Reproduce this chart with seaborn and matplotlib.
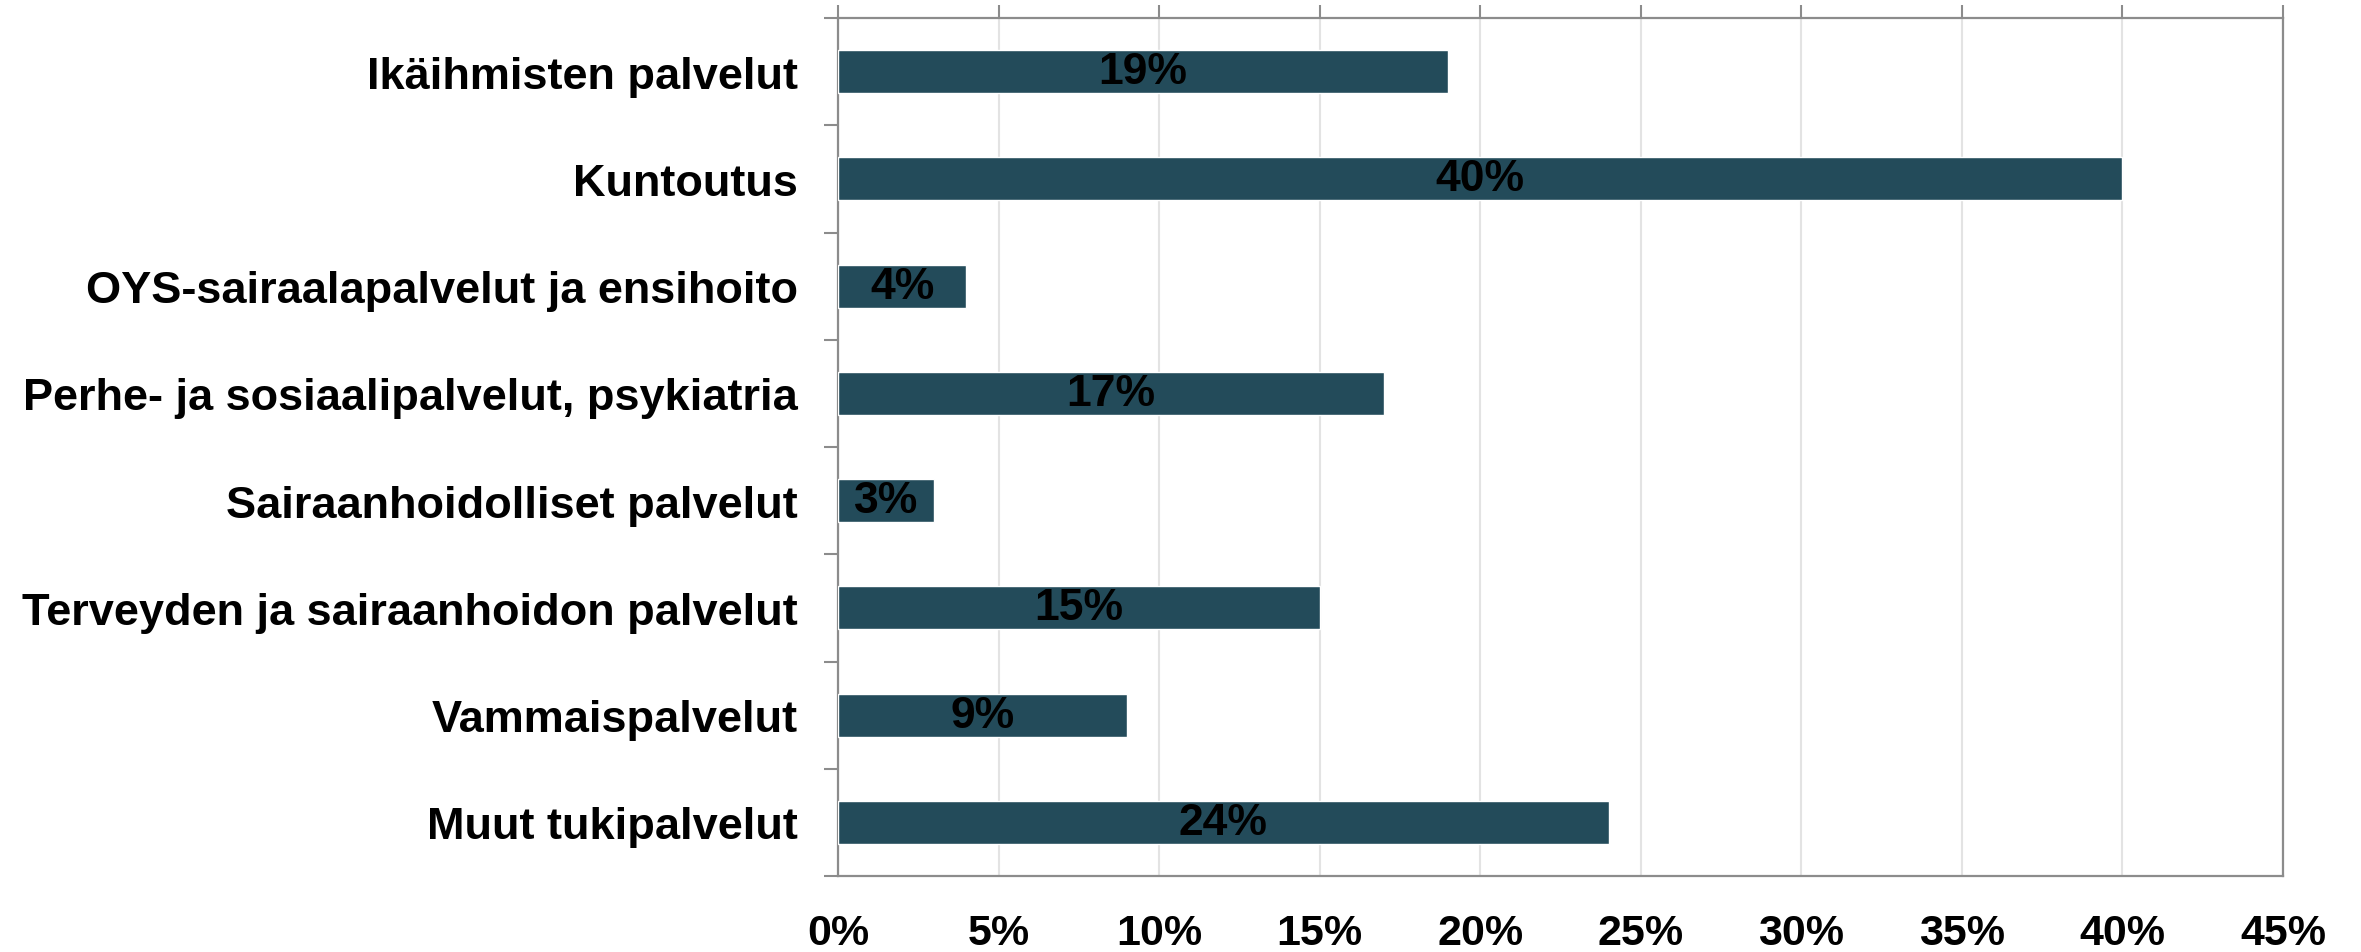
import numpy as np
import pandas as pd
import seaborn as sns
import matplotlib
matplotlib.use("Agg")
import matplotlib.pyplot as plt
from matplotlib.ticker import FixedLocator, PercentFormatter

categories = [
    "Ikäihmisten palvelut",
    "Kuntoutus",
    "OYS-sairaalapalvelut ja ensihoito",
    "Perhe- ja sosiaalipalvelut, psykiatria",
    "Sairaanhoidolliset palvelut",
    "Terveyden ja sairaanhoidon palvelut",
    "Vammaispalvelut",
    "Muut tukipalvelut",
]
shares = [19, 40, 4, 17, 3, 15, 9, 24]
x_ticks = [0, 5, 10, 15, 20, 25, 30, 35, 40, 45]

BAR = "#234b5a"
AXIS = "#8c8c8c"
GRID = "#e3e3e3"

sns.set_theme(style="white")
plt.rcParams["font.family"] = ["Liberation Sans", "DejaVu Sans"]
plt.rcParams["font.weight"] = "bold"

df = pd.DataFrame({"category": categories, "share": shares})

W, H = 2361, 953
fig = plt.figure(figsize=(W / 100, H / 100), dpi=100)
ax = fig.add_axes([838 / W, 1 - 877 / H, (2283 - 838) / W, (877 - 19) / H])

sns.barplot(data=df, x="share", y="category", orient="h", color=BAR,
            width=0.4, saturation=1, ax=ax, zorder=3)

ax.set_xlim(0, 45)
ax.set_ylim(len(categories) - 0.5, -0.5)
ax.set_xlabel("")
ax.set_ylabel("")

# grid behind bars
ax.xaxis.set_major_locator(FixedLocator(x_ticks))
ax.xaxis.set_major_formatter(PercentFormatter(decimals=0))
ax.grid(axis="x", color=GRID, linewidth=1.5, zorder=0)
ax.set_axisbelow(True)

# x: tick marks on top, labels at bottom
ax.tick_params(axis="x", top=True, bottom=False, labeltop=False, labelbottom=True,
               direction="out", length=9.5, width=1.5, color=AXIS,
               labelsize=31, pad=17)
for lab in ax.get_xticklabels():
    lab.set_fontweight("bold")
    lab.set_color("black")

# y: boundary ticks, labels in the middle
n = len(categories)
ax.yaxis.set_major_locator(FixedLocator(np.arange(-0.5, n, 1.0)))
ax.yaxis.set_minor_locator(FixedLocator(np.arange(n)))
ax.yaxis.set_major_formatter(plt.NullFormatter())
ax.yaxis.set_minor_formatter(plt.FixedFormatter(categories))
ax.tick_params(axis="y", which="major", direction="out", length=10, width=1.5,
               color=AXIS, left=True)
ax.tick_params(axis="y", which="minor", length=0, pad=29, labelsize=32.5,
               labelcolor="black", left=True)
for lab in ax.get_yticklabels(minor=True):
    lab.set_fontweight("bold")

for side in ["left", "right", "top", "bottom"]:
    ax.spines[side].set_visible(True)
    ax.spines[side].set_color(AXIS)
    ax.spines[side].set_linewidth(1.6)

for cont in ax.containers:
    ax.bar_label(cont, labels=[f"{v}%" for v in shares], label_type="center",
                 fontsize=32, fontweight="bold", color="black")

fig.savefig("out.png", dpi=100)
